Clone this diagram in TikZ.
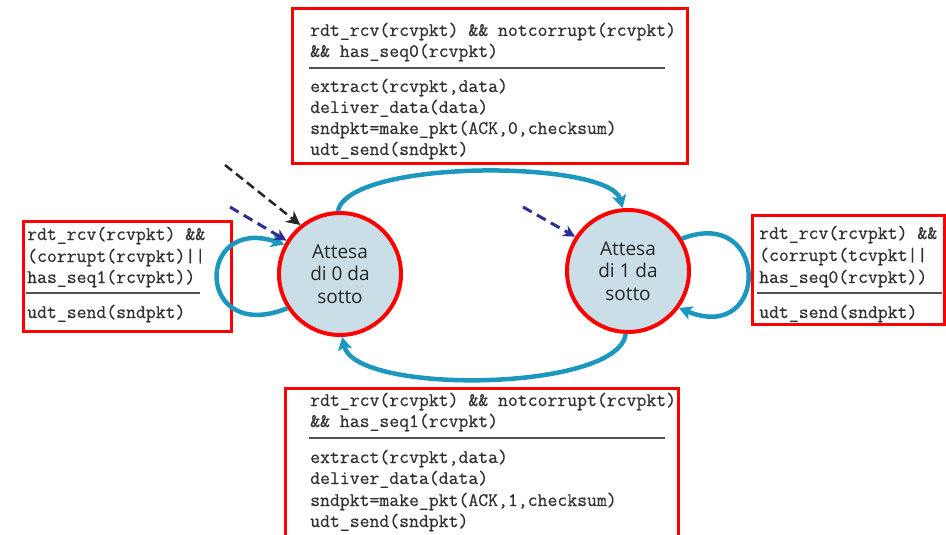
\documentclass[tikz,border=0pt]{standalone}
\usepackage{fontspec}
\setmainfont{Open Sans}
\setmonofont[FakeBold=0.6]{Latin Modern Mono}
\usetikzlibrary{arrows.meta}
\definecolor{boxred}{RGB}{255,0,0}
\definecolor{stfill}{RGB}{202,222,231}
\definecolor{arcblue}{RGB}{28,152,190}
\definecolor{dashblue}{RGB}{45,45,150}
\definecolor{codegray}{RGB}{50,50,50}
\begin{document}
\begin{tikzpicture}[x=1pt,y=-1pt,
  code/.style={anchor=base west, inner sep=0pt, font=\ttfamily\fontsize{19.2}{20}\selectfont, text=codegray},
  boxframe/.style={draw=boxred, line width=3pt, inner sep=0pt},
  rulel/.style={draw=codegray!85, line width=1.3pt},
  state/.style={circle, draw=boxred, line width=4pt, fill=stfill, minimum size=122pt, inner sep=0pt, align=center, font=\fontsize{19}{22.5}\selectfont, text=black!85},
  trans/.style={draw=arcblue, line width=4.5pt, -{Stealth[length=13pt,width=14pt,inset=3pt]}},
  initblk/.style={draw=black!85, line width=2.5pt, dash pattern=on 9pt off 5pt, -{Stealth[length=14pt,width=14pt]}},
  initblu/.style={draw=dashblue, line width=3pt, dash pattern=on 10pt off 6pt, -{Stealth[length=12pt,width=12pt]}}
]
\useasboundingbox (0,0) rectangle (946,535);

% states
\node[state] (s0) at (340,274) {Attesa\\di 0 da\\sotto};
\node[state] (s1) at (628,271) {Attesa\\di 1 da\\sotto};

% top box
\node[boxframe, minimum width=395pt, minimum height=154pt] (tb) at (489.5,86) {};
\node[code] (t1) at (310,36) {rdt\_rcv(rcvpkt) \&\& notcorrupt(rcvpkt)};
\node[code] (t2) at (310,57) {\&\& has\_seq0(rcvpkt)};
\draw[rulel] (309,68) -- (665,68);
\node[code] (t3) at (310,92) {extract(rcvpkt,data)};
\node[code] (t4) at (310,113) {deliver\_data(data)};
\node[code] (t5) at (310,134) {sndpkt=make\_pkt(ACK,0,checksum)};
\node[code] (t6) at (310,155) {udt\_send(sndpkt)};

% left box
\node[boxframe, minimum width=208pt, minimum height=110pt] (lb) at (127,276) {};
\node[code] (l1) at (27,240) {rdt\_rcv(rcvpkt) \&\&};
\node[code] (l2) at (27,262) {(corrupt(rcvpkt)||};
\node[code] (l3) at (27,283) {has\_seq1(rcvpkt))};
\draw[rulel] (26,293) -- (200,293);
\node[code] (l4) at (27,318) {udt\_send(sndpkt)};

% right box
\node[boxframe, minimum width=192pt, minimum height=109pt] (rb) at (848.5,269.5) {};
\node[code] (r1) at (759,239) {rdt\_rcv(rcvpkt) \&\&};
\node[code] (r2) at (759,261) {(corrupt(tcvpkt||};
\node[code] (r3) at (759,283) {has\_seq0(rcvpkt))};
\draw[rulel] (757,293) -- (942,293);
\node[code] (r4) at (759,318) {udt\_send(sndpkt)};

% bottom box (open at the bottom edge)
\draw[draw=boxred, line width=3pt] (285,536) -- (285,388) -- (678,388) -- (678,536);
\node[code] (b1) at (310,406) {rdt\_rcv(rcvpkt) \&\& notcorrupt(rcvpkt)};
\node[code] (b2) at (310,427) {\&\& has\_seq1(rcvpkt)};
\draw[rulel] (309,438) -- (665,438);
\node[code] (b3) at (310,463) {extract(rcvpkt,data)};
\node[code] (b4) at (310,484) {deliver\_data(data)};
\node[code] (b5) at (310,506) {sndpkt=make\_pkt(ACK,1,checksum)};
\node[code] (b6) at (310,527) {udt\_send(sndpkt)};

% transitions
\draw[trans] (s0.92) .. controls (350,158) and (610,160) .. (s1.95);
\draw[trans] (s1.268) .. controls (618,392) and (355,395) .. (s0.272);
\draw[trans] (s0.213) .. controls (195,345) and (195,215) .. (s0.152);
\draw[trans] (s1.31) .. controls (770,205) and (770,345) .. (s1.-36);

% initial / dashed arrows
\coordinate (k0) at (225,165);
\coordinate (k1) at (230,207);
\coordinate (k2) at (523,207);
\draw[initblk] (k0) -- (s0.129);
\draw[initblu] (k1) -- (s0.148);
\draw[initblu] (k2) -- (s1.147);
\end{tikzpicture}
\end{document}
